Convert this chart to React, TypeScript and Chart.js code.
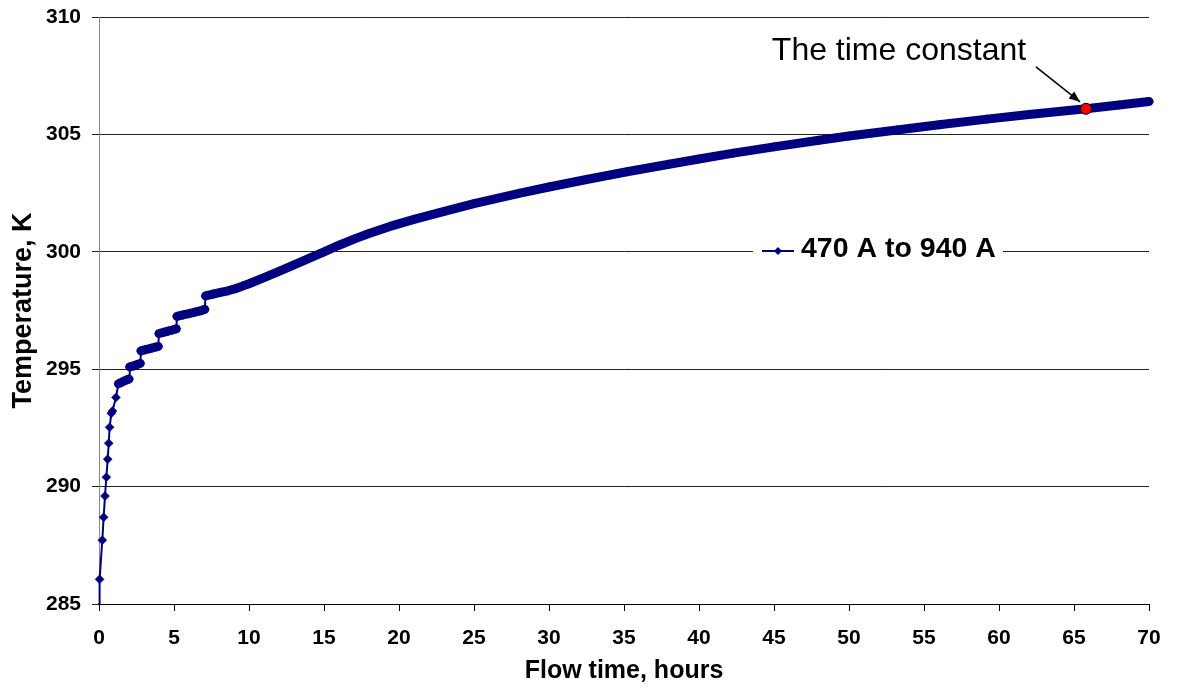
import React, { useEffect, useRef } from "react";
import { Chart, registerables } from "chart.js";

Chart.register(...registerables);

// ---- Data ----
const timeHours = [
  0, 0.04, 0.22, 0.31, 0.4, 0.49, 0.58, 0.65, 0.71, 0.82, 0.9, 1.13,
  1.3, 1.5, 1.75, 2.0, 2.05, 2.3, 2.55, 2.75, 2.8, 3.1, 3.4, 3.7, 3.95,
  4.0, 4.3, 4.6, 4.9, 5.15, 5.2, 5.6, 6.0, 6.4, 6.8, 7.05, 7.1, 7.6, 8.1,
  8.6, 9.1, 9.6, 10, 11, 12, 13, 14, 15, 16, 17, 18, 19.4, 21, 22.7, 25, 28,
  30, 32.5, 35.2, 38, 40, 42.3, 45, 48, 50, 53.2, 56, 59.2, 62, 65.8, 68, 70,
];
const temperatureK = [
  285, 286.05, 287.72, 288.69, 289.6, 290.4, 291.17, 291.85, 292.53, 293.12,
  293.22, 293.8, 294.38, 294.44, 294.52, 294.58, 295.1, 295.14, 295.2, 295.25,
  295.78, 295.83, 295.88, 295.93, 295.97, 296.52, 296.57, 296.62, 296.67,
  296.72, 297.25, 297.31, 297.37, 297.43, 297.49, 297.55, 298.12, 298.2,
  298.27, 298.34, 298.43, 298.55, 298.64, 298.9, 299.17, 299.44, 299.72, 300.0,
  300.28, 300.54, 300.78, 301.08, 301.38, 301.67, 302.05, 302.49, 302.76,
  303.08, 303.41, 303.73, 303.95, 304.2, 304.47, 304.75, 304.93, 305.19,
  305.41, 305.65, 305.85, 306.09, 306.25, 306.4,
];
const seriesLabel = "470 A to 940 A";
const timeConstantHours = 65.8;
const timeConstantK = 306.09;
const annotationText = "The time constant";
const xTitle = "Flow time, hours";
const yTitle = "Temperature, K";
const xMin = 0;
const xMax = 70;
const xStep = 5;
const yMin = 285;
const yMax = 310;
const yStep = 5;

const FONT = '"Liberation Sans", Arial, Helvetica, sans-serif';
const NAVY = "#000080";

export default function App() {
  const ref = useRef<HTMLCanvasElement>(null);

  useEffect(() => {
    const canvas = ref.current;
    if (!canvas) return;
    Chart.defaults.font.family = FONT;

    const overlay = {
      id: "overlay",
      afterDraw(chart: any) {
        const ctx = chart.ctx as CanvasRenderingContext2D;
        const xs = chart.scales.x;
        const ys = chart.scales.y;
        const px = xs.getPixelForValue(timeConstantHours);
        const py = ys.getPixelForValue(timeConstantK);
        ctx.save();
        // annotation text
        ctx.font = `32px ${FONT}`;
        ctx.fillStyle = "#000";
        ctx.textAlign = "center";
        ctx.textBaseline = "alphabetic";
        ctx.fillText(annotationText, px - 187, py - 49);
        // arrow
        const x0 = px - 50, y0 = py - 42, x1 = px - 6, y1 = py - 7;
        ctx.strokeStyle = "#000";
        ctx.lineWidth = 1.5;
        ctx.beginPath();
        ctx.moveTo(x0, y0);
        ctx.lineTo(x1, y1);
        ctx.stroke();
        const ang = Math.atan2(y1 - y0, x1 - x0);
        const hl = 11, hw = 4.5;
        ctx.beginPath();
        ctx.moveTo(x1, y1);
        ctx.lineTo(
          x1 - hl * Math.cos(ang) + hw * Math.sin(ang),
          y1 - hl * Math.sin(ang) - hw * Math.cos(ang)
        );
        ctx.lineTo(
          x1 - hl * Math.cos(ang) - hw * Math.sin(ang),
          y1 - hl * Math.sin(ang) + hw * Math.cos(ang)
        );
        ctx.closePath();
        ctx.fillStyle = "#000";
        ctx.fill();

        // legend box
        const lx = 753, ly = 236, lw = 250, lh = 30;
        ctx.fillStyle = "#fff";
        ctx.fillRect(lx, ly, lw, lh);
        const cy = ly + lh / 2;
        ctx.strokeStyle = NAVY;
        ctx.lineWidth = 2;
        ctx.beginPath();
        ctx.moveTo(762, cy);
        ctx.lineTo(794, cy);
        ctx.stroke();
        ctx.fillStyle = NAVY;
        ctx.beginPath();
        ctx.moveTo(778, cy - 4);
        ctx.lineTo(782, cy);
        ctx.lineTo(778, cy + 4);
        ctx.lineTo(774, cy);
        ctx.closePath();
        ctx.fill();
        ctx.fillStyle = "#000";
        ctx.font = `bold 28.5px ${FONT}`;
        ctx.textAlign = "left";
        ctx.textBaseline = "alphabetic";
        ctx.fillText(seriesLabel, 801, cy + 6);
        ctx.restore();
      },
    };

    const chart = new Chart(canvas, {
      type: "line",
      data: {
        datasets: [
          {
            label: seriesLabel,
            data: timeHours.map((t, i) => ({ x: t, y: temperatureK[i] })),
            order: 2,
            borderColor: NAVY,
            backgroundColor: NAVY,
            borderWidth: 2,
            borderCapStyle: "round",
            borderJoinStyle: "round",
            pointStyle: "rectRot",
            pointRadius: (c: any) => (c.dataIndex === 0 ? 0 : 4.5),
            pointBorderWidth: 0.5,
            tension: 0,
            clip: false,
            segment: {
              borderWidth: (c: any) =>
                Math.abs(c.p1.y - c.p0.y) < Math.abs(c.p1.x - c.p0.x) ? 9 : 2,
            },
          } as any,
          {
            label: annotationText,
            data: [{ x: timeConstantHours, y: timeConstantK }],
            order: 1,
            showLine: false,
            pointRadius: 5.5,
            backgroundColor: "#ff0000",
            borderColor: "#000",
            pointBorderWidth: 1,
            borderWidth: 1,
            clip: false,
          } as any,
        ],
      },
      options: {
        responsive: false,
        animation: false,
        events: [],
        layout: { padding: { left: 0, top: 17, right: 30, bottom: 0 } },
        plugins: {
          legend: { display: false },
          tooltip: { enabled: false },
        },
        scales: {
          x: {
            type: "linear",
            min: xMin,
            max: xMax,
            ticks: {
              stepSize: xStep,
              padding: 15,
              color: "#000",
              font: { size: 21, weight: "bold", family: FONT },
            },
            grid: {
              drawOnChartArea: false,
              drawTicks: true,
              tickLength: 7,
              color: "#000",
            },
            border: { color: "#000", width: 1 },
            title: {
              display: true,
              text: xTitle,
              color: "#000",
              font: { size: 25, weight: "bold", family: FONT },
              padding: { top: 0, bottom: 4 },
            },
            afterFit: (s: any) => {
              s.height = 86;
              s.paddingLeft = 0;
              s.paddingRight = 12;
            },
          },
          y: {
            type: "linear",
            min: yMin,
            max: yMax,
            ticks: {
              stepSize: yStep,
              padding: 11,
              color: "#000",
              font: { size: 21, weight: "bold", family: FONT },
            },
            grid: { color: "#222", tickLength: 7, drawTicks: true },
            border: { color: "#888", width: 1 },
            title: {
              display: true,
              text: yTitle,
              color: "#000",
              font: { size: 27, weight: "bold", family: FONT },
              padding: { top: 7, bottom: 0 },
            },
            afterFit: (s: any) => {
              s.width = 99;
              s.paddingTop = 12;
              s.paddingBottom = 12;
            },
          },
        },
      } as any,
      plugins: [overlay],
    });

    return () => chart.destroy();
  }, []);

  return (
    <div
      style={{
        position: "fixed",
        left: 0,
        top: 0,
        width: 1179,
        height: 690,
        background: "#fff",
      }}
    >
      <canvas ref={ref} width={1179} height={690} style={{ display: "block" }} />
    </div>
  );
}
